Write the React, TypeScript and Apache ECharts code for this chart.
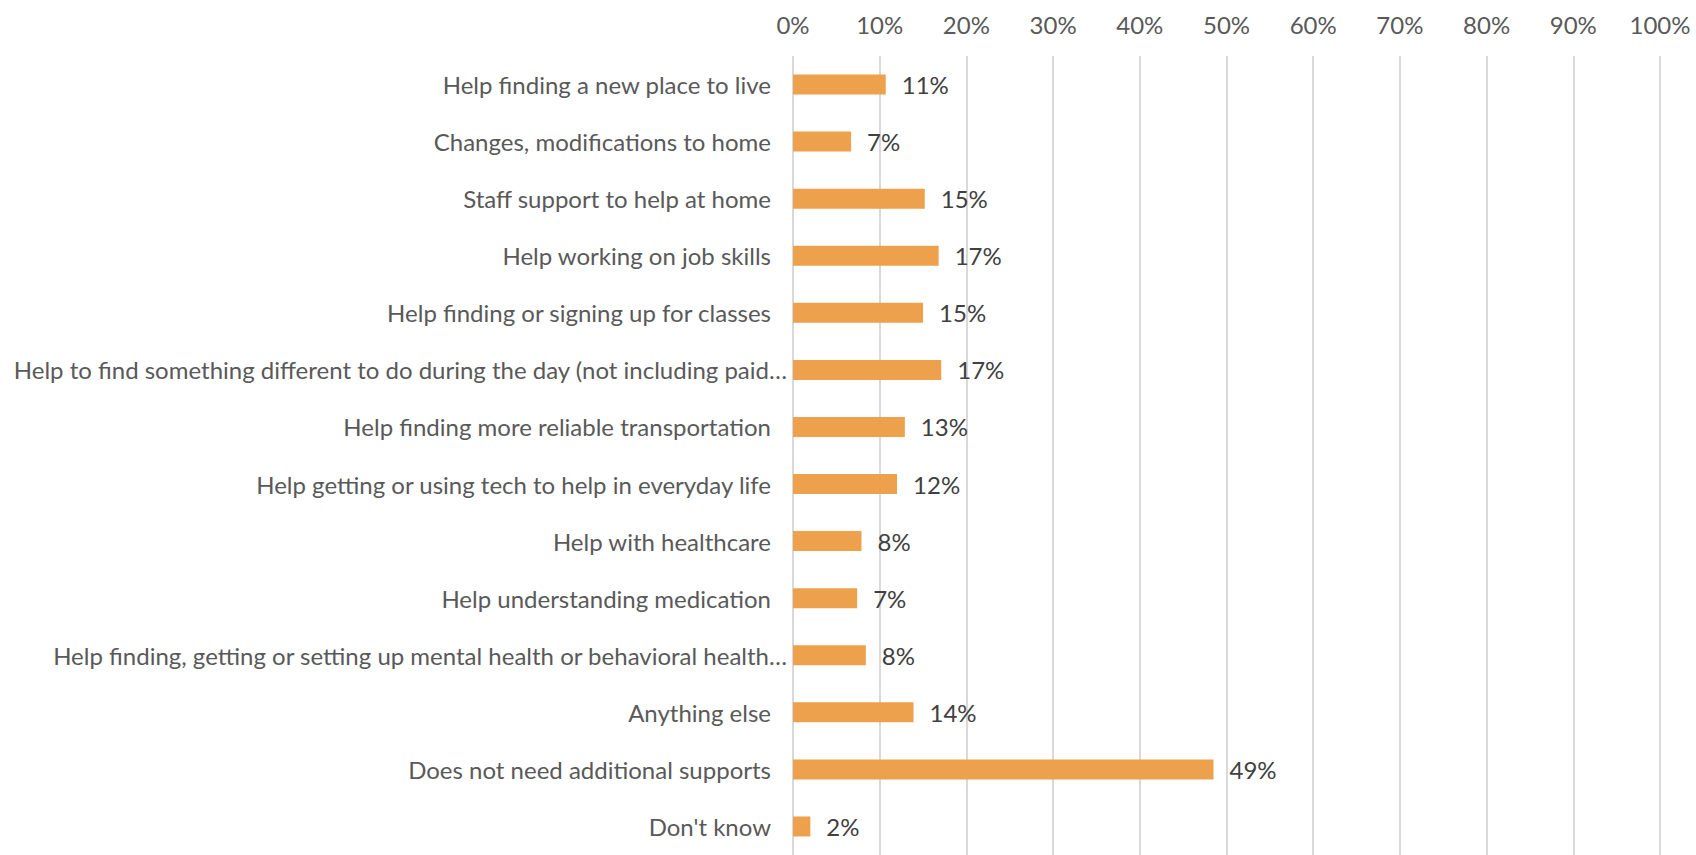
import React, { useEffect, useRef } from "react";
import * as echarts from "echarts";

const categories = [
  "Help finding a new place to live",
  "Changes, modifications to home",
  "Staff support to help at home",
  "Help working on job skills",
  "Help finding or signing up for classes",
  "Help to find something different to do during the day (not including paid…",
  "Help finding more reliable transportation",
  "Help getting or using tech to help in everyday life",
  "Help with healthcare",
  "Help understanding medication",
  "Help finding, getting or setting up mental health or behavioral health…",
  "Anything else",
  "Does not need additional supports",
  "Don't know",
];

const values = [10.7, 6.7, 15.2, 16.8, 15.0, 17.1, 12.9, 12.0, 7.9, 7.4, 8.4, 13.9, 48.5, 2.0];
const valueLabels = ["11%", "7%", "15%", "17%", "15%", "17%", "13%", "12%", "8%", "7%", "8%", "14%", "49%", "2%"];
const ticks = [0, 10, 20, 30, 40, 50, 60, 70, 80, 90, 100];

export default function App() {
  const ref = useRef<HTMLDivElement>(null);
  useEffect(() => {
    if (!ref.current) return;
    const chart = echarts.init(ref.current, null, { renderer: "svg" });
    const catData = categories.map((c) =>
      c.endsWith("…")
        ? { value: c, textStyle: { padding: [0, 0, 0, 0] } }
        : { value: c }
    );
    chart.setOption({
      animation: false,
      backgroundColor: "#ffffff",
      textStyle: { fontFamily: "Lato" },
      grid: { left: 793, top: 56, width: 867, height: 805, containLabel: false },
      xAxis: {
        type: "value",
        position: "top",
        min: 0,
        max: 100,
        interval: 10,
        axisLine: { show: false },
        axisTick: { show: false },
        axisLabel: {
          color: "#595959",
          fontSize: 24,
          fontFamily: "Lato",
          margin: 20,
          formatter: (v: number) => (ticks.includes(v) ? v + "%" : ""),
        },
        splitLine: { show: true, lineStyle: { color: "#d9d9d9", width: 2 } },
      },
      yAxis: {
        type: "category",
        inverse: true,
        data: catData,
        axisLine: { show: false },
        axisTick: { show: false },
        axisLabel: {
          color: "#595959",
          fontSize: 24,
          fontFamily: "Lato",
          margin: 6,
          padding: [0, 16, 0, 0],
        },
        splitLine: { show: false },
      },
      series: [
        {
          type: "bar",
          data: values,
          barWidth: 20,
          itemStyle: { color: "#EDA14D" },
          label: {
            show: true,
            position: "right",
            distance: 16,
            color: "#404040",
            fontSize: 24,
            fontFamily: "Lato",
            formatter: (p: any) => valueLabels[p.dataIndex],
          },
        },
      ],
    });
    return () => chart.dispose();
  }, []);
  return (
    <div
      ref={ref}
      style={{ position: "fixed", left: 0, top: 0, width: 1696, height: 855 }}
    />
  );
}
